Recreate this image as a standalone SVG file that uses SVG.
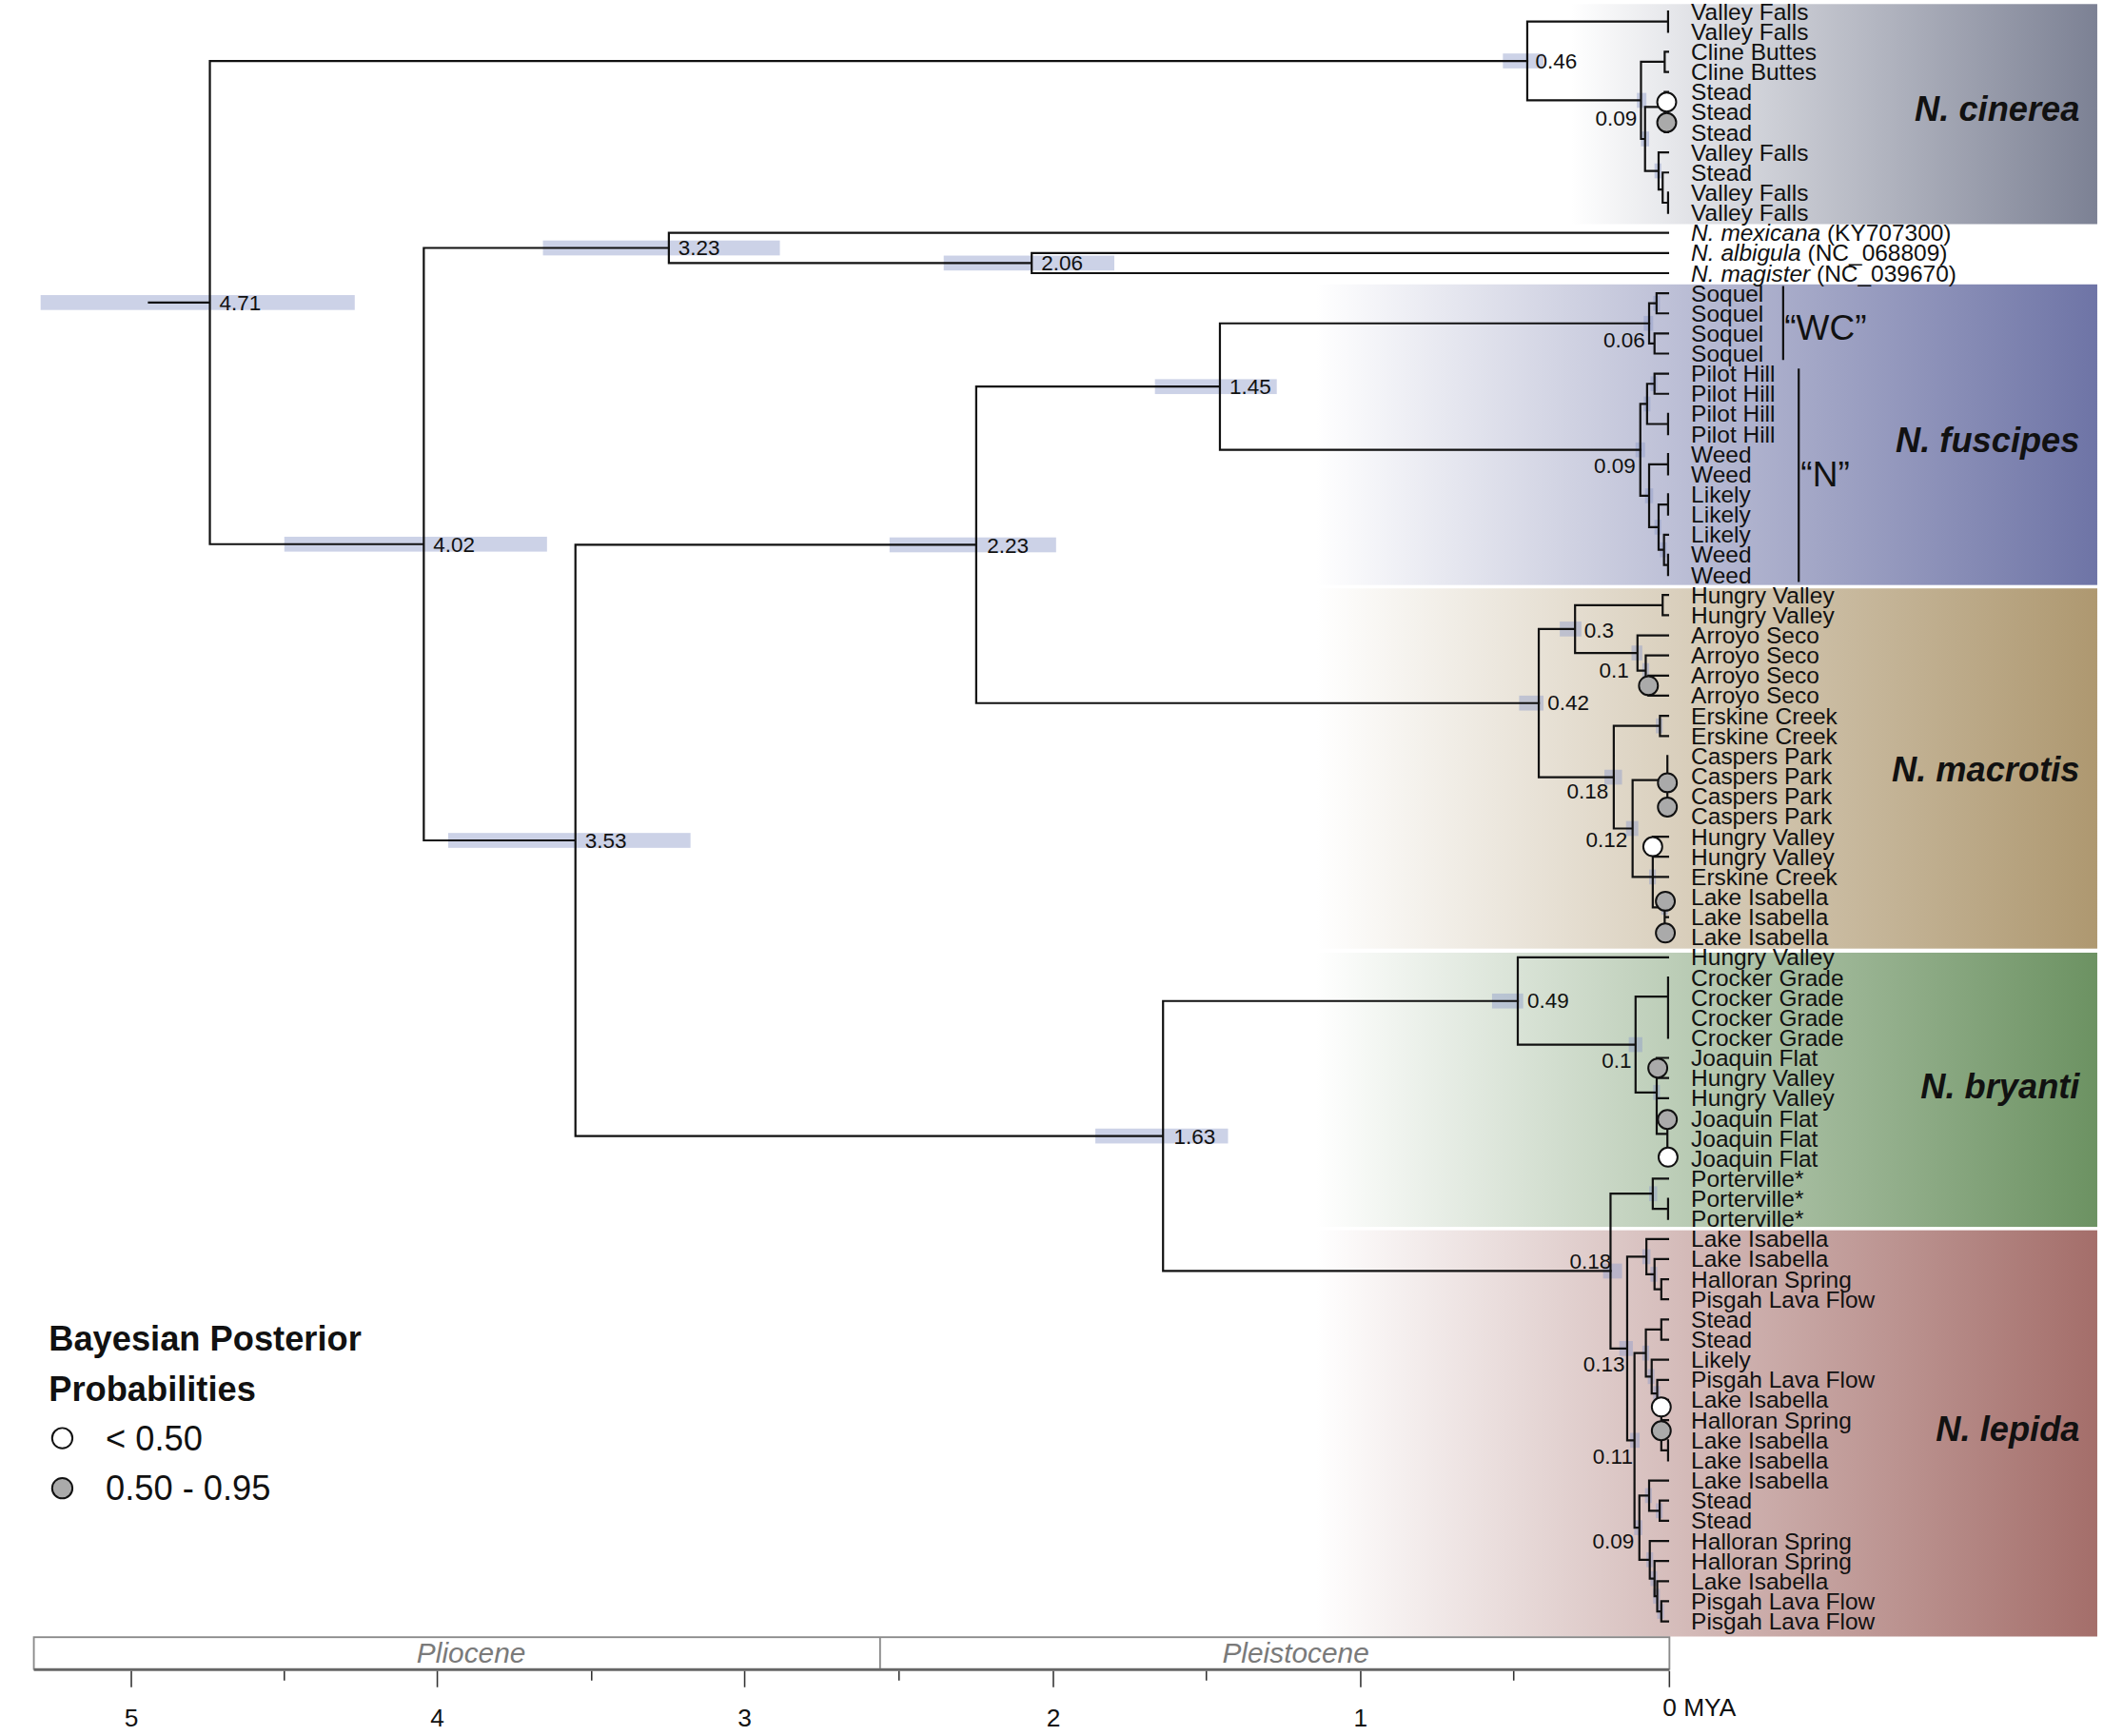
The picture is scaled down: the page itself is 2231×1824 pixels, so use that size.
<svg xmlns="http://www.w3.org/2000/svg" width="2231" height="1824" viewBox="0 0 2231 1824">
<defs>
<style>
text{font-family:"Liberation Sans",Arial,Helvetica,sans-serif;fill:#111}
.br{fill:none;stroke:#111;stroke-width:1.55;stroke-linecap:square}
.hpd{fill:#8e9bc9;fill-opacity:0.45}
.tip{font-size:17.2px}
.age{font-size:15.8px}
.agr{font-size:15.8px;text-anchor:end}
.clade{font-size:25.5px;font-weight:bold;font-style:italic;text-anchor:end}
.pw{fill:#fff;stroke:#111;stroke-width:1.4}
.pg{fill:#aaa;stroke:#111;stroke-width:1.4}
.ax{fill:none;stroke:#333;stroke-width:1.1}
.ep{font-size:21px;font-style:italic;fill:#7a7a7a;text-anchor:middle}
.num{font-size:18.5px;text-anchor:middle}
.leg{font-size:25.5px}
.legb{font-size:25.5px;font-weight:bold}
.br2{font-size:26px}
</style>
<linearGradient id="gCin" gradientUnits="userSpaceOnUse" x1="1160" y1="0" x2="1549" y2="0"><stop offset="0" stop-color="#ffffff"/><stop offset="1" stop-color="#7c8194"/></linearGradient>
<linearGradient id="gFus" gradientUnits="userSpaceOnUse" x1="972" y1="0" x2="1549" y2="0"><stop offset="0" stop-color="#ffffff"/><stop offset="1" stop-color="#6e74a6"/></linearGradient>
<linearGradient id="gMac" gradientUnits="userSpaceOnUse" x1="972" y1="0" x2="1549" y2="0"><stop offset="0" stop-color="#ffffff"/><stop offset="1" stop-color="#ae9870"/></linearGradient>
<linearGradient id="gBry" gradientUnits="userSpaceOnUse" x1="972" y1="0" x2="1549" y2="0"><stop offset="0" stop-color="#ffffff"/><stop offset="1" stop-color="#6c9262"/></linearGradient>
<linearGradient id="gLep" gradientUnits="userSpaceOnUse" x1="972" y1="0" x2="1549" y2="0"><stop offset="0" stop-color="#ffffff"/><stop offset="1" stop-color="#a46e6a"/></linearGradient>
</defs>
<rect width="2231" height="1824" fill="#fff"/>
<g transform="scale(1.42283)">
<g id="panels">
<rect x="1160" y="3" width="389" height="162.5" fill="url(#gCin)"/>
<rect x="972" y="210" width="577" height="222" fill="url(#gFus)"/>
<rect x="972" y="434.5" width="577" height="266" fill="url(#gMac)"/>
<rect x="972" y="703.5" width="577" height="202.5" fill="url(#gBry)"/>
<rect x="972" y="908.5" width="577" height="300" fill="url(#gLep)"/>
</g>
<g id="hpd-bars">
<rect class="hpd" x="30" y="217.9" width="232" height="11"/>
<rect class="hpd" x="210" y="396.35" width="194" height="11"/>
<rect class="hpd" x="331" y="615.1" width="179" height="11"/>
<rect class="hpd" x="401" y="177.6" width="175" height="11"/>
<rect class="hpd" x="697" y="188.75" width="126" height="11"/>
<rect class="hpd" x="657" y="396.85" width="123" height="11"/>
<rect class="hpd" x="853" y="280" width="90" height="11"/>
<rect class="hpd" x="809" y="833.4" width="98" height="11"/>
<rect class="hpd" x="1110" y="39.5" width="30" height="11"/>
<rect class="hpd" x="1122" y="513.7" width="18" height="11"/>
<rect class="hpd" x="1102" y="733.7" width="23" height="11"/>
<rect class="hpd" x="1152" y="459" width="16" height="11"/>
<rect class="hpd" x="1185" y="568.4" width="13" height="11"/>
<rect class="hpd" x="1201" y="606.3" width="9" height="11"/>
<rect class="hpd" x="1205" y="476.7" width="8" height="11"/>
<rect class="hpd" x="1203" y="765.9" width="10" height="11"/>
<rect class="hpd" x="1184" y="933.1" width="14" height="11"/>
<rect class="hpd" x="1196" y="990.3" width="10" height="11"/>
<rect class="hpd" x="1204" y="1058.1" width="7" height="11"/>
<rect class="hpd" x="1207" y="1122.6" width="6" height="11"/>
<rect class="hpd" x="1214" y="233.3" width="7" height="11"/>
<rect class="hpd" x="1208" y="326.7" width="7" height="11"/>
<rect class="hpd" x="1209" y="68.6" width="7" height="11"/>
<rect class="hpd" x="1212" y="97.1" width="6" height="11"/>
<rect class="hpd" x="1222" y="120.7" width="5" height="11"/>
<rect class="hpd" x="1221" y="218.5" width="5" height="11"/>
<rect class="hpd" x="1214" y="292.8" width="5" height="11"/>
<rect class="hpd" x="1219" y="277.9" width="5" height="11"/>
<rect class="hpd" x="1215" y="360.6" width="6" height="11"/>
<rect class="hpd" x="1222" y="383.8" width="5" height="11"/>
<rect class="hpd" x="1226" y="400.5" width="5" height="11"/>
<rect class="hpd" x="1213" y="489.7" width="5" height="11"/>
<rect class="hpd" x="1223" y="530.5" width="5" height="11"/>
<rect class="hpd" x="1218" y="642.1" width="5" height="11"/>
<rect class="hpd" x="1227" y="664.5" width="5" height="11"/>
<rect class="hpd" x="1221" y="801.2" width="5" height="11"/>
<rect class="hpd" x="1218" y="876" width="6" height="11"/>
<rect class="hpd" x="1213" y="922.5" width="6" height="11"/>
<rect class="hpd" x="1219" y="935.5" width="5" height="11"/>
<rect class="hpd" x="1213" y="993.7" width="5" height="11"/>
<rect class="hpd" x="1217" y="1011" width="5" height="11"/>
<rect class="hpd" x="1221" y="1023.5" width="5" height="11"/>
<rect class="hpd" x="1215" y="1098.9" width="5" height="11"/>
<rect class="hpd" x="1223" y="1110.1" width="5" height="11"/>
<rect class="hpd" x="1216" y="1146.3" width="5" height="11"/>
<rect class="hpd" x="1219" y="1160.2" width="5" height="11"/>
<rect class="hpd" x="1221" y="1173.2" width="5" height="11"/>
<rect class="hpd" x="1224" y="1184.4" width="5" height="11"/>
</g>
<g id="connectors">
<path class="br" d="M110 223.4H155M155 45V401.85M155 45H1128M155 401.85H313M313 183.1V620.6M313 183.1H494M494 172V194.25M494 172H1232M494 194.25H762M762 186.8V201.7M762 186.8H1232M762 201.7H1232M313 620.6H425M425 402.35V838.9M425 402.35H721M721 285.5V519.2M721 285.5H901M901 238.8V332.2M901 238.8H1218M901 332.2H1211.5M721 519.2H1136.5M425 838.9H859M859 739.2V938.6M859 739.2H1121M859 938.6H1189.5"/>
<path class="br" d="M1128 15.9V74.1M1128 15.9H1232M1232 8.5V23.4M1128 74.1H1212M1212 45.6V102.6M1212 45.6H1229.5M1232 38.2H1229.5V53.1H1232M1212 102.6H1215M1215 79V126.2M1215 79H1229.5M1229.5 67.9V97.7M1229.5 67.9H1232M1229.5 82.8H1232M1229.5 97.7H1232M1215 126.2H1225M1225 112.5V140M1225 112.5H1232M1225 140H1228M1228 127.4V149.7M1228 127.4H1232M1228 149.7H1232M1232 142.2V157.1"/>
<path class="br" d="M1218 224V253.7M1218 224H1223.5M1223.5 216.5V231.4M1223.5 216.5H1232M1223.5 231.4H1232M1218 253.7H1222M1222 246.3V261.1M1222 246.3H1232M1222 261.1H1232M1211.5 298.3V366.1M1211.5 298.3H1216.5M1216.5 283.4V313.1M1216.5 283.4H1222M1222 276V290.8M1222 276H1232M1222 290.8H1232M1216.5 313.1H1232M1232 305.7V320.6M1211.5 366.1H1218M1218 342.9V389.3M1218 342.9H1232M1232 335.4V350.3M1218 389.3H1225M1225 372.6V406M1225 372.6H1232M1232 365.1V380M1225 406H1229M1229 394.9V417.2M1229 394.9H1232M1229 417.2H1232M1232 409.7V424.6"/>
<path class="br" d="M1136.5 464.5V573.9M1136.5 464.5H1163.3M1163.3 446.9V482.2M1163.3 446.9H1228M1228 439.4V454.3M1228 439.4H1232M1228 454.3H1232M1163.3 482.2H1209.4M1209.4 469.2V495.2M1209.4 469.2H1232M1209.4 495.2H1215.5M1215.5 484V506.3M1215.5 484H1232M1215.5 506.3H1217.5M1217.5 498.9V513.7M1217.5 498.9H1232M1217.5 513.7H1232M1136.5 573.9H1191.9M1191.9 536V611.8M1191.9 536H1226M1226 528.6V543.5M1226 528.6H1232M1226 543.5H1232M1191.9 611.8H1205.8M1205.8 576V647.6M1205.8 576H1231.5M1231.5 558.3V602.9M1205.8 647.6H1232M1220.7 625.2V670M1220.7 617.8V632.6M1220.7 617.8H1232M1220.7 632.6H1232M1220.7 670H1229.5M1229.5 662.3V692.1M1229.5 662.3H1232M1229.5 677.2H1232M1229.5 692.1H1232"/>
<path class="br" d="M1121 706.9V771.4M1121 706.9H1232M1121 771.4H1208M1208 736V806.7M1208 736H1232M1232 721.8V766.4M1208 806.7H1223.6M1223.6 788.7V837.3M1223.6 781.2V796.1M1223.6 781.2H1232M1223.6 796.1H1232M1223.6 810.9H1232M1223.6 837.3H1231.5M1231.5 825.8V855.5"/>
<path class="br" d="M1189.5 881.5V995.8M1189.5 881.5H1220.7M1220.7 870.4V892.7M1220.7 870.4H1232M1220.7 892.7H1232M1232 885.2V900.1M1189.5 995.8H1201.8M1201.8 928V1063.6M1201.8 928H1216M1216 915V941M1216 915H1232M1216 941H1222M1222 929.8V952.1M1222 929.8H1232M1222 952.1H1227M1227 944.7V959.5M1227 944.7H1232M1227 959.5H1232M1201.8 1063.6H1207.2M1207.2 999.2V1128.1M1207.2 999.2H1215.6M1215.6 981.8V1016.5M1215.6 981.8H1227M1227 974.4V989.3M1227 974.4H1232M1227 989.3H1232M1215.6 1016.5H1219.9M1219.9 1004.1V1029M1219.9 1004.1H1232M1219.9 1029H1224M1224 1019V1039M1224 1019H1232M1224 1039H1227M1227 1033.8V1071M1227 1033.8H1232M1227 1048.7H1232M1227 1071H1232M1232 1063.6V1078.4M1207.2 1128.1H1210.8M1210.8 1104.4V1151.8M1210.8 1104.4H1218M1218 1093.3V1115.6M1218 1093.3H1232M1218 1115.6H1225.8M1225.8 1108.1V1123M1225.8 1108.1H1232M1225.8 1123H1232M1210.8 1151.8H1218.5M1218.5 1137.9V1165.7M1218.5 1137.9H1232M1218.5 1165.7H1222M1222 1152.7V1178.7M1222 1152.7H1232M1222 1178.7H1224M1224 1167.6V1189.9M1224 1167.6H1232M1224 1189.9H1227M1227 1182.4V1197.3M1227 1182.4H1232M1227 1197.3H1232"/>
<path class="br" d="M1317 212V265M1328.5 273V429"/>
</g>
<g id="support-circles">
<circle class="pw" cx="1231" cy="75.4" r="7"/>
<circle class="pg" cx="1231" cy="90.5" r="7"/>
<circle class="pg" cx="1217.5" cy="506.3" r="7"/>
<circle class="pg" cx="1231.5" cy="578" r="7"/>
<circle class="pg" cx="1231.5" cy="596" r="7"/>
<circle class="pw" cx="1220.7" cy="625.2" r="7"/>
<circle class="pg" cx="1230" cy="665.5" r="7"/>
<circle class="pg" cx="1230" cy="689" r="7"/>
<circle class="pg" cx="1224.4" cy="788.7" r="7"/>
<circle class="pg" cx="1231.5" cy="826.7" r="7"/>
<circle class="pw" cx="1232" cy="854.5" r="7"/>
<circle class="pw" cx="1227" cy="1039" r="7"/>
<circle class="pg" cx="1227" cy="1056.5" r="7"/>
</g>
<g id="node-ages">
<text class="age" x="162" y="229">4.71</text>
<text class="age" x="320" y="407.5">4.02</text>
<text class="age" x="432" y="626.2">3.53</text>
<text class="age" x="501" y="188.7">3.23</text>
<text class="age" x="769" y="199.9">2.06</text>
<text class="age" x="729" y="408">2.23</text>
<text class="age" x="908" y="291.1">1.45</text>
<text class="age" x="867" y="844.5">1.63</text>
<text class="age" x="1134" y="50.6">0.46</text>
<text class="age" x="1143" y="524.6">0.42</text>
<text class="age" x="1128" y="744.6">0.49</text>
<text class="age" x="1170" y="470.6">0.3</text>
<text class="agr" x="1203" y="500.6">0.1</text>
<text class="agr" x="1188" y="589.6">0.18</text>
<text class="agr" x="1202" y="625.6">0.12</text>
<text class="agr" x="1209" y="92.6">0.09</text>
<text class="agr" x="1215" y="256.6">0.06</text>
<text class="agr" x="1208" y="349.6">0.09</text>
<text class="agr" x="1205" y="788.6">0.1</text>
<text class="agr" x="1190" y="936.6">0.18</text>
<text class="agr" x="1200" y="1012.6">0.13</text>
<text class="agr" x="1206" y="1080.6">0.11</text>
<text class="agr" x="1207" y="1143.6">0.09</text>
</g>
<g id="clade-cinerea">
<text class="tip" x="1249" y="14.5">Valley Falls</text>
<text class="tip" x="1249" y="29.4">Valley Falls</text>
<text class="tip" x="1249" y="44.2">Cline Buttes</text>
<text class="tip" x="1249" y="59.1">Cline Buttes</text>
<text class="tip" x="1249" y="73.9">Stead</text>
<text class="tip" x="1249" y="88.8">Stead</text>
<text class="tip" x="1249" y="103.7">Stead</text>
<text class="tip" x="1249" y="118.5">Valley Falls</text>
<text class="tip" x="1249" y="133.4">Stead</text>
<text class="tip" x="1249" y="148.2">Valley Falls</text>
<text class="tip" x="1249" y="163.1">Valley Falls</text>
<text class="clade" x="1536" y="89">N. cinerea</text>
</g>
<g id="outgroups">
<text class="tip" x="1249" y="178"><tspan font-style="italic">N. mexicana</tspan> (KY707300)</text>
<text class="tip" x="1249" y="192.8"><tspan font-style="italic">N. albigula</tspan> (NC_068809)</text>
<text class="tip" x="1249" y="207.7"><tspan font-style="italic">N. magister</tspan> (NC_039670)</text>
</g>
<g id="clade-fuscipes">
<text class="tip" x="1249" y="222.5">Soquel</text>
<text class="tip" x="1249" y="237.4">Soquel</text>
<text class="tip" x="1249" y="252.3">Soquel</text>
<text class="tip" x="1249" y="267.1">Soquel</text>
<text class="tip" x="1249" y="282">Pilot Hill</text>
<text class="tip" x="1249" y="296.8">Pilot Hill</text>
<text class="tip" x="1249" y="311.7">Pilot Hill</text>
<text class="tip" x="1249" y="326.6">Pilot Hill</text>
<text class="tip" x="1249" y="341.4">Weed</text>
<text class="tip" x="1249" y="356.3">Weed</text>
<text class="tip" x="1249" y="371.1">Likely</text>
<text class="tip" x="1249" y="386">Likely</text>
<text class="tip" x="1249" y="400.9">Likely</text>
<text class="tip" x="1249" y="415.7">Weed</text>
<text class="tip" x="1249" y="430.6">Weed</text>
<text class="br2" x="1318" y="251">“WC”</text>
<text class="br2" x="1330" y="359">“N”</text>
<text class="clade" x="1536" y="334">N. fuscipes</text>
</g>
<g id="clade-macrotis">
<text class="tip" x="1249" y="445.4">Hungry Valley</text>
<text class="tip" x="1249" y="460.3">Hungry Valley</text>
<text class="tip" x="1249" y="475.2">Arroyo Seco</text>
<text class="tip" x="1249" y="490">Arroyo Seco</text>
<text class="tip" x="1249" y="504.9">Arroyo Seco</text>
<text class="tip" x="1249" y="519.7">Arroyo Seco</text>
<text class="tip" x="1249" y="534.6">Erskine Creek</text>
<text class="tip" x="1249" y="549.5">Erskine Creek</text>
<text class="tip" x="1249" y="564.3">Caspers Park</text>
<text class="tip" x="1249" y="579.2">Caspers Park</text>
<text class="tip" x="1249" y="594">Caspers Park</text>
<text class="tip" x="1249" y="608.9">Caspers Park</text>
<text class="tip" x="1249" y="623.8">Hungry Valley</text>
<text class="tip" x="1249" y="638.6">Hungry Valley</text>
<text class="tip" x="1249" y="653.5">Erskine Creek</text>
<text class="tip" x="1249" y="668.3">Lake Isabella</text>
<text class="tip" x="1249" y="683.2">Lake Isabella</text>
<text class="tip" x="1249" y="698.1">Lake Isabella</text>
<text class="clade" x="1536" y="577">N. macrotis</text>
</g>
<g id="clade-bryanti">
<text class="tip" x="1249" y="712.9">Hungry Valley</text>
<text class="tip" x="1249" y="727.8">Crocker Grade</text>
<text class="tip" x="1249" y="742.6">Crocker Grade</text>
<text class="tip" x="1249" y="757.5">Crocker Grade</text>
<text class="tip" x="1249" y="772.4">Crocker Grade</text>
<text class="tip" x="1249" y="787.2">Joaquin Flat</text>
<text class="tip" x="1249" y="802.1">Hungry Valley</text>
<text class="tip" x="1249" y="816.9">Hungry Valley</text>
<text class="tip" x="1249" y="831.8">Joaquin Flat</text>
<text class="tip" x="1249" y="846.7">Joaquin Flat</text>
<text class="tip" x="1249" y="861.5">Joaquin Flat</text>
<text class="tip" x="1249" y="876.4">Porterville*</text>
<text class="tip" x="1249" y="891.2">Porterville*</text>
<text class="tip" x="1249" y="906.1">Porterville*</text>
<text class="clade" x="1536" y="811">N. bryanti</text>
</g>
<g id="clade-lepida">
<text class="tip" x="1249" y="921">Lake Isabella</text>
<text class="tip" x="1249" y="935.8">Lake Isabella</text>
<text class="tip" x="1249" y="950.7">Halloran Spring</text>
<text class="tip" x="1249" y="965.5">Pisgah Lava Flow</text>
<text class="tip" x="1249" y="980.4">Stead</text>
<text class="tip" x="1249" y="995.3">Stead</text>
<text class="tip" x="1249" y="1010.1">Likely</text>
<text class="tip" x="1249" y="1025">Pisgah Lava Flow</text>
<text class="tip" x="1249" y="1039.8">Lake Isabella</text>
<text class="tip" x="1249" y="1054.7">Halloran Spring</text>
<text class="tip" x="1249" y="1069.6">Lake Isabella</text>
<text class="tip" x="1249" y="1084.4">Lake Isabella</text>
<text class="tip" x="1249" y="1099.3">Lake Isabella</text>
<text class="tip" x="1249" y="1114.1">Stead</text>
<text class="tip" x="1249" y="1129">Stead</text>
<text class="tip" x="1249" y="1143.9">Halloran Spring</text>
<text class="tip" x="1249" y="1158.7">Halloran Spring</text>
<text class="tip" x="1249" y="1173.6">Lake Isabella</text>
<text class="tip" x="1249" y="1188.4">Pisgah Lava Flow</text>
<text class="tip" x="1249" y="1203.3">Pisgah Lava Flow</text>
<text class="clade" x="1536" y="1064">N. lepida</text>
</g>
<g id="legend">
<text class="legb" x="36" y="997">Bayesian Posterior</text>
<text class="legb" x="36" y="1034.5">Probabilities</text>
<circle class="pw" cx="46" cy="1062" r="7.5"/>
<text class="leg" x="78" y="1071">&lt; 0.50</text>
<circle class="pg" cx="46" cy="1099" r="7.5"/>
<text class="leg" x="78" y="1108">0.50 - 0.95</text>
</g>
<g id="time-axis">
<rect x="25" y="1209" width="1208" height="23.5" fill="#fff" stroke="#8a8a8a" stroke-width="1.3"/>
<path d="M650 1209V1232.5" stroke="#8a8a8a" stroke-width="1.3"/>
<path d="M25 1233H1233" stroke="#666" stroke-width="1.8"/>
<text class="ep" x="348" y="1228">Pliocene</text>
<text class="ep" x="957" y="1228">Pleistocene</text>
<path class="ax" d="M97 1234V1246M323 1234V1246M550 1234V1246M778 1234V1246M1005 1234V1246M1233 1234V1246M210 1234V1241M437 1234V1241M664 1234V1241M891 1234V1241M1118 1234V1241"/>
<text class="num" x="97" y="1275">5</text>
<text class="num" x="323" y="1275">4</text>
<text class="num" x="550" y="1275">3</text>
<text class="num" x="778" y="1275">2</text>
<text class="num" x="1005" y="1275">1</text>
<text x="1228" y="1267" font-size="18.5">0 MYA</text>
</g>
</g>
</svg>
